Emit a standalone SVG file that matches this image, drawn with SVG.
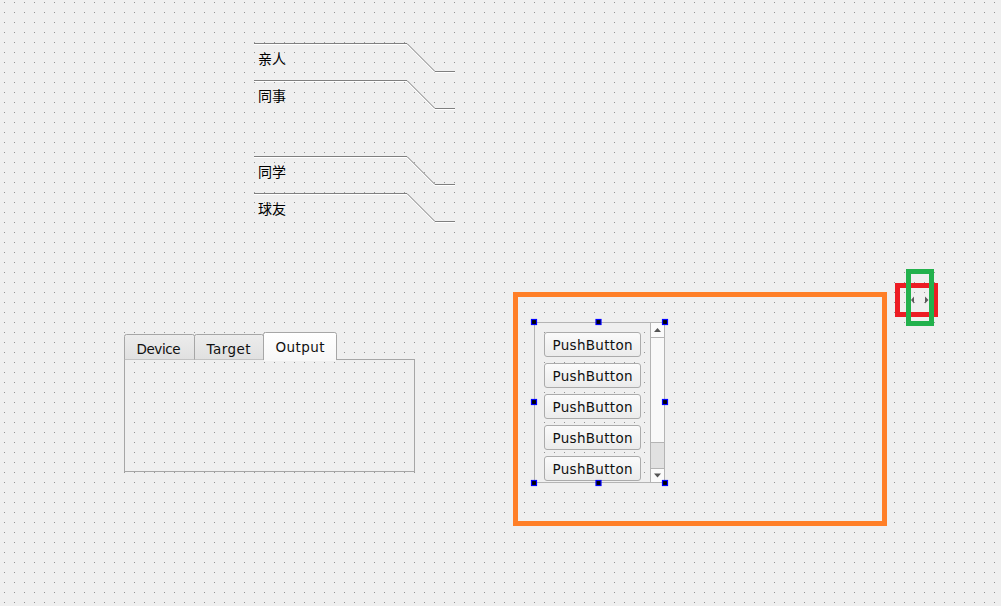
<svg xmlns="http://www.w3.org/2000/svg" width="1001" height="606" viewBox="0 0 1001 606">
<style>
.cjk{font-family:"Noto Sans CJK SC","Noto Sans CJK JP",sans-serif;font-size:14px;fill:#000}
.ui{font-family:"DejaVu Sans","Liberation Sans",sans-serif;font-size:13.5px;fill:#101010}
.sep{fill:none;stroke:#7f7f7f;stroke-width:1}
.sepw{fill:none;stroke:#ffffff;stroke-width:1}
.tab{stroke:#a6a6a6;stroke-width:1;fill:url(#tabg)}
.btn{fill:url(#btng);stroke:#ababab;stroke-width:1}
.hdl{fill:#000;stroke:#0000ff;stroke-width:1.2}
</style>
<defs>
<pattern id="grid" width="10" height="10" patternUnits="userSpaceOnUse">
<rect x="4" y="2" width="1" height="1" fill="#949494"/>
</pattern>
<linearGradient id="tabg" x1="0" y1="0" x2="0" y2="1">
<stop offset="0" stop-color="#ececec"/><stop offset="1" stop-color="#e0e0e0"/>
</linearGradient>
<linearGradient id="tabsel" x1="0" y1="0" x2="0" y2="1">
<stop offset="0" stop-color="#ffffff"/><stop offset="1" stop-color="#f7f7f7"/>
</linearGradient>
<linearGradient id="btng" x1="0" y1="0" x2="0" y2="1">
<stop offset="0" stop-color="#fbfbfb"/><stop offset="1" stop-color="#ebebeb"/>
</linearGradient>
</defs>
<rect x="0" y="0" width="1001" height="606" fill="#efefef"/>
<rect x="0" y="0" width="1001" height="606" fill="url(#grid)"/>

<g id="connectors">
<polyline class="sepw" points="254,44.5 406.6,44.5 434.6,72.5 455,72.5"/>
<polyline class="sep" points="254,43.5 407,43.5 435,71.5 455,71.5"/>
<polyline class="sepw" points="254,81.5 406.6,81.5 434.6,109.5 455,109.5"/>
<polyline class="sep" points="254,80.5 407,80.5 435,108.5 455,108.5"/>
<polyline class="sepw" points="254,157.5 406.6,157.5 434.6,185.5 455,185.5"/>
<polyline class="sep" points="254,156.5 407,156.5 435,184.5 455,184.5"/>
<polyline class="sepw" points="254,194.5 406.6,194.5 434.6,222.5 455,222.5"/>
<polyline class="sep" points="254,193.5 407,193.5 435,221.5 455,221.5"/>
</g>

<g id="label-qinren"><text class="cjk" x="258" y="64">亲人</text></g>
<g id="label-tongshi"><text class="cjk" x="258" y="101">同事</text></g>
<g id="label-tongxue"><text class="cjk" x="258" y="177">同学</text></g>
<g id="label-qiuyou"><text class="cjk" x="258" y="214">球友</text></g>

<g id="tabwidget">
<rect x="124.5" y="359.5" width="290" height="112" fill="none" stroke="#a6a6a6"/>
<path class="tab" d="M124.5,359.5 V336.5 Q124.5,334.5 126.5,334.5 H192.5 Q194.5,334.5 194.5,336.5 V359.5"/>
<path class="tab" d="M194.5,359.5 V336.5 Q194.5,334.5 196.5,334.5 H261.5 Q263.5,334.5 263.5,336.5 V359.5"/>
<path d="M263.5,360 V334.5 Q263.5,332.5 265.5,332.5 H334.5 Q336.5,332.5 336.5,334.5 V360" fill="url(#tabsel)" stroke="#a6a6a6"/>
<rect x="264" y="358" width="72" height="3" fill="#f7f7f7"/>
<text class="ui" x="136.5" y="354" textLength="44">Device</text>
<text class="ui" x="206.5" y="354" textLength="44">Target</text>
<text class="ui" x="275.5" y="352" textLength="49">Output</text>
</g>

<g id="scrollarea">
<rect x="534.5" y="322.5" width="130" height="160" fill="none" stroke="#b4b4b4"/>
<rect class="btn" x="544.5" y="332.5" width="96" height="24" rx="2.5"/>
<rect class="btn" x="544.5" y="363.5" width="96" height="24" rx="2.5"/>
<rect class="btn" x="544.5" y="394.5" width="96" height="24" rx="2.5"/>
<rect class="btn" x="544.5" y="425.5" width="96" height="24" rx="2.5"/>
<rect class="btn" x="544.5" y="456.5" width="96" height="24" rx="2.5"/>
<text class="ui" x="592.5" y="349.5" text-anchor="middle" textLength="80">PushButton</text>
<text class="ui" x="592.5" y="380.5" text-anchor="middle" textLength="80">PushButton</text>
<text class="ui" x="592.5" y="411.5" text-anchor="middle" textLength="80">PushButton</text>
<text class="ui" x="592.5" y="442.5" text-anchor="middle" textLength="80">PushButton</text>
<text class="ui" x="592.5" y="473.5" text-anchor="middle" textLength="80">PushButton</text>
<rect x="650.5" y="322.5" width="14" height="15" fill="#fbfbfb" stroke="#b4b4b4"/>
<rect x="650.5" y="337.5" width="14" height="105" fill="#f9f9f9" stroke="#b4b4b4"/>
<rect x="650.5" y="442.5" width="14" height="26" fill="#e1e1e1" stroke="#b4b4b4"/>
<rect x="650.5" y="468.5" width="14" height="14" fill="#fbfbfb" stroke="#b4b4b4"/>
<polygon points="654,332 661,332 657.5,328" fill="#555"/>
<polygon points="654,473.5 661,473.5 657.5,477.5" fill="#555"/>
<rect class="hdl" x="531.5" y="319.5" width="5" height="5"/>
<rect class="hdl" x="596" y="319.5" width="5" height="5"/>
<rect class="hdl" x="662.5" y="319.5" width="5" height="5"/>
<rect class="hdl" x="531.5" y="399.5" width="5" height="5"/>
<rect class="hdl" x="662.5" y="399.5" width="5" height="5"/>
<rect class="hdl" x="531.5" y="480.5" width="5" height="5"/>
<rect class="hdl" x="596" y="480.5" width="5" height="5"/>
<rect class="hdl" x="662.5" y="480.5" width="5" height="5"/>
</g>

<g id="orange-frame">
<rect x="515.5" y="294.5" width="369" height="229" fill="none" stroke="#ff7f27" stroke-width="5"/>
</g>

<g id="splitter">
<rect x="897.5" y="285.5" width="38" height="29" fill="none" stroke="#ed1c24" stroke-width="5"/>
<rect x="908.5" y="271.5" width="23" height="52" fill="none" stroke="#22b14c" stroke-width="5"/>
<polygon points="911,300 914,296.5 914,303.5" fill="#5a5a5a"/>
<polygon points="928.5,300 925,296.5 925,303.5" fill="#5a5a5a"/>
</g>
</svg>
